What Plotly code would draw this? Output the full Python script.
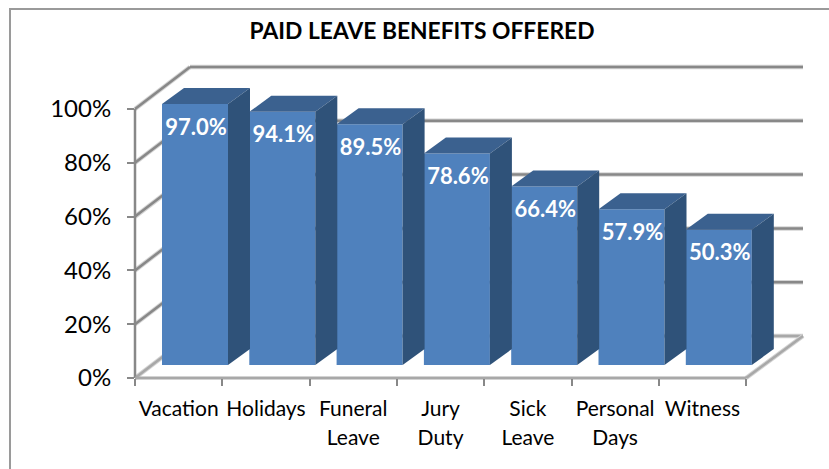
import plotly.graph_objects as go

categories_line1 = ["Vacation", "Holidays", "Funeral", "Jury", "Sick", "Personal", "Witness"]
categories_line2 = ["", "", "Leave", "Duty", "Leave", "Days", ""]
values = [97.0, 94.1, 89.5, 78.6, 66.4, 57.9, 50.3]
value_labels = ["97.0%", "94.1%", "89.5%", "78.6%", "66.4%", "57.9%", "50.3%"]
y_ticks = [0, 20, 40, 60, 80, 100]
y_tick_labels = ["0%", "20%", "40%", "60%", "80%", "100%"]

W, H = 829, 469
PX0, PX1, PY0, PY1 = 135, 803, 378, 68     # plot box in pixels
PER_CAT = 87.3
PER_PCT = 2.69
n = len(values)
XMAX = (PX1 - PX0) / PER_CAT
YMAX = (PY0 - PY1) / PER_PCT
WALL_DX = 55 / PER_CAT
WALL_DY = 42 / PER_PCT
BAR_W = 66 / PER_CAT
BAR_OFF = 27 / PER_CAT
BAR_BASE = 13 / PER_PCT
BAR_DX = 22 / PER_CAT
BAR_DY = 16 / PER_PCT
LABEL_DROP = 25 / PER_PCT

FRONT, SIDE, TOP = "#4f81bd", "#2f5279", "#3b618f"
GRID, FLOOR, SHADOW = "#888888", "#a8a8a8", "#d4d4d4"
FONT = "Lato"

fig = go.Figure()

centres = [i + BAR_OFF + BAR_W / 2 for i in range(n)]
fig.add_trace(go.Bar(x=centres, y=values, base=[BAR_BASE] * n, width=BAR_W,
                     marker=dict(color=FRONT, line=dict(width=0)), showlegend=False))

for c, v in zip(centres, values):
    x1 = c + BAR_W / 2
    x0 = c - BAR_W / 2
    top = v + BAR_BASE
    fig.add_trace(go.Scatter(x=[x0, x1, x1 + BAR_DX, x0 + BAR_DX, x0],
                             y=[top, top, top + BAR_DY, top + BAR_DY, top],
                             mode="lines", fill="toself", fillcolor=TOP,
                             line=dict(width=0, color=TOP), showlegend=False, hoverinfo="skip"))
    fig.add_trace(go.Scatter(x=[x1, x1 + BAR_DX, x1 + BAR_DX, x1, x1],
                             y=[BAR_BASE, BAR_BASE + BAR_DY, top + BAR_DY, top, BAR_BASE],
                             mode="lines", fill="toself", fillcolor=SIDE,
                             line=dict(width=0, color=SIDE), showlegend=False, hoverinfo="skip"))

fig.add_trace(go.Scatter(x=[c + 1 / PER_CAT for c in centres],
                         y=[v + BAR_BASE - LABEL_DROP for v in values],
                         mode="text", text=value_labels,
                         textfont=dict(family=FONT, size=22, color="white", weight="bold"),
                         showlegend=False, hoverinfo="skip"))

shapes = []
def seg(x0, y0, x1, y1, color, width):
    # paper coordinates, so that the thick wall and axis lines are not clipped at the plot box
    shapes.append(dict(type="line", xref="paper", yref="paper",
                       x0=(PX0 + x0 * PER_CAT) / W, y0=(H - PY0 + y0 * PER_PCT) / H,
                       x1=(PX0 + x1 * PER_CAT) / W, y1=(H - PY0 + y1 * PER_PCT) / H,
                       layer="below", line=dict(color=color, width=width)))

for v in y_ticks:
    color = FLOOR if v == 0 else GRID
    for col, w in ((SHADOW, 4.5), (color, 2.5)):
        seg(0, v, WALL_DX, v + WALL_DY, col, w)
        seg(WALL_DX, v + WALL_DY, XMAX, v + WALL_DY, col, w)
for col, w in ((SHADOW, 4.5), (FLOOR, 2.5)):
    seg(n, 0, XMAX, WALL_DY, col, w)
seg(0, 0, 0, y_ticks[-1], GRID, 2.5)
seg(0, 0, n, 0, FLOOR, 3)
# outer chart frame: top and left edges run off the picture
shapes.append(dict(type="rect", xref="paper", yref="paper", layer="below",
                   x0=10 / W, x1=(W + 20) / W, y0=-20 / H, y1=1 - 9 / H,
                   line=dict(color="#9a9a9a", width=2)))

dom_x = [PX0 / W, PX1 / W]
dom_y = [(H - PY0) / H, (H - PY1) / H]
tickfont = dict(family=FONT, size=21, color="black")
label_pos = [i + 0.5 for i in range(n)]

fig.update_layout(
    width=W, height=H, margin=dict(l=0, r=0, t=0, b=0), autosize=False,
    paper_bgcolor="white", plot_bgcolor="rgba(0,0,0,0)", showlegend=False,
    shapes=shapes,
    title=dict(text="<b>PAID LEAVE BENEFITS OFFERED</b>", x=422 / W, xanchor="center",
               y=1 - 31 / H, yanchor="middle", font=dict(family=FONT, size=22.8, color="black")),
    xaxis=dict(domain=dom_x, range=[0, XMAX], anchor="y", showgrid=False, zeroline=False,
               showline=False, tickmode="array", tickvals=label_pos, ticktext=categories_line1,
               ticks="", tickfont=tickfont, ticklabelstandoff=16, automargin=False),
    xaxis2=dict(domain=dom_x, range=[0, XMAX], anchor="y", overlaying="x", showgrid=False,
                zeroline=False, showline=False, tickmode="array",
                tickvals=list(range(n + 1)), ticktext=[""] * (n + 1), ticks="outside",
                ticklen=7, tickwidth=2, tickcolor=GRID, automargin=False),
    xaxis3=dict(domain=dom_x, range=[0, XMAX], anchor="y", overlaying="x", showgrid=False,
                zeroline=False, showline=False, tickmode="array", tickvals=label_pos,
                ticktext=categories_line2, ticks="", tickfont=tickfont, ticklabelstandoff=45,
                automargin=False),
    yaxis=dict(domain=dom_y, range=[0, YMAX], showgrid=False, zeroline=False, showline=False,
               tickmode="array", tickvals=y_ticks, ticktext=y_tick_labels, ticks="outside",
               ticklen=7, tickwidth=2, tickcolor=GRID, automargin=False,
               tickfont=dict(family=FONT, size=24, color="black"), ticklabelstandoff=11),
)
# keep the overlay axes alive with empty traces
fig.add_trace(go.Scatter(x=[None], y=[None], xaxis="x2", yaxis="y", showlegend=False))
fig.add_trace(go.Scatter(x=[None], y=[None], xaxis="x3", yaxis="y", showlegend=False))

fig.write_html("out.html", config=dict(displayModeBar=False),
               post_script="document.body.style.margin='0';document.documentElement.style.overflow='hidden';")
